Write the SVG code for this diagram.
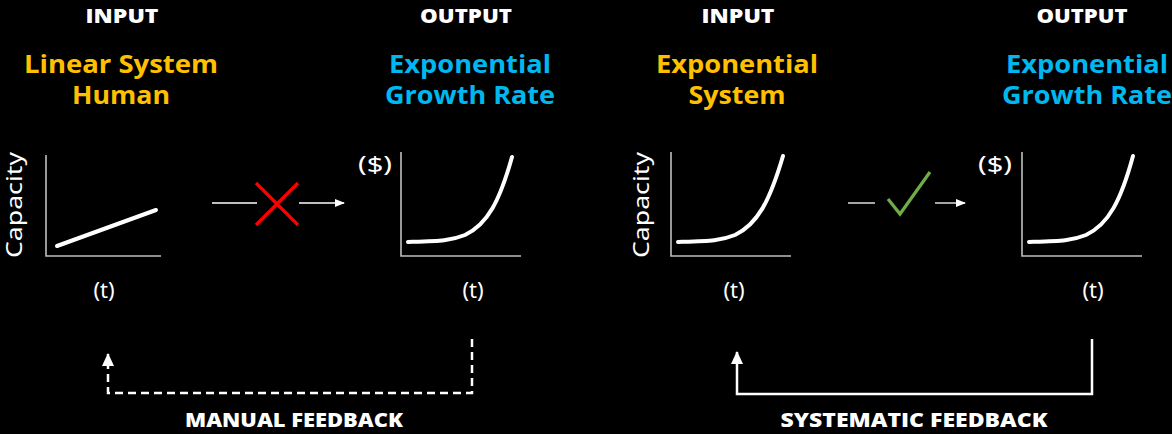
<svg xmlns="http://www.w3.org/2000/svg" width="1172" height="434" viewBox="0 0 1172 434">
<style>
.hd{font-family:"Open Sans",Lato,sans-serif;font-weight:800;font-size:19px;fill:#fff;text-anchor:middle}
.ti{font-family:"Open Sans",Lato,sans-serif;font-weight:700;font-size:25px;text-anchor:middle}
.yl{fill:#FFC000}.bl{fill:#00B8F0}
.lb{font-family:"Noto Sans","Liberation Sans",sans-serif;font-size:22px;fill:#fff;text-anchor:middle}
.ax{stroke:#bfbfbf;stroke-width:1.6;fill:none}
.cv{stroke:#fff;stroke-width:4;fill:none;stroke-linecap:round}
.ar{stroke:#fff;stroke-width:1.3;fill:none}
.fb{stroke:#fff;stroke-width:2.5;fill:none}
</style>
<defs>
<marker id="ah" markerWidth="10" markerHeight="10" refX="9" refY="5" orient="auto" markerUnits="userSpaceOnUse">
<path d="M0,1 L10,5 L0,9 Z" fill="#fff"/>
</marker>
<marker id="fh" markerWidth="12" markerHeight="14" refX="6" refY="1" orient="0" markerUnits="userSpaceOnUse">
<path d="M0,13 L6,0 L12,13 Z" fill="#fff"/>
</marker>
</defs>
<rect width="1172" height="434" fill="#000"/>

<g id="input-linear">
<text class="hd" x="122" y="23" textLength="73" lengthAdjust="spacingAndGlyphs">INPUT</text>
<text class="ti yl" x="121" y="73" textLength="194" lengthAdjust="spacingAndGlyphs">Linear System</text>
<text class="ti yl" x="121" y="104" textLength="98" lengthAdjust="spacingAndGlyphs">Human</text>
<text class="lb" transform="translate(22,205) rotate(-90)" textLength="106" lengthAdjust="spacingAndGlyphs">Capacity</text>
<path class="ax" d="M46,155 V256 H161"/>
<path class="cv" d="M57,246 L156,210"/>
<text class="lb" x="104" y="298">(t)</text>
</g>

<g id="output-left">
<text class="hd" x="466" y="23" textLength="92" lengthAdjust="spacingAndGlyphs">OUTPUT</text>
<text class="ti bl" x="470" y="73" textLength="162" lengthAdjust="spacingAndGlyphs">Exponential</text>
<text class="ti bl" x="470" y="104" textLength="170" lengthAdjust="spacingAndGlyphs">Growth Rate</text>
<text class="lb" x="375" y="172" textLength="34" lengthAdjust="spacingAndGlyphs">($)</text>
<path class="ax" d="M401,152 V256 H521"/>
<path class="cv" d="M408,242 C440,241 450,241 465,235 C488,224 500,200 512,157"/>
<text class="lb" x="473" y="298">(t)</text>
</g>

<g id="input-exp">
<text class="hd" x="738" y="23" textLength="73" lengthAdjust="spacingAndGlyphs">INPUT</text>
<text class="ti yl" x="737" y="73" textLength="162" lengthAdjust="spacingAndGlyphs">Exponential</text>
<text class="ti yl" x="737" y="104" textLength="97" lengthAdjust="spacingAndGlyphs">System</text>
<text class="lb" transform="translate(649,205) rotate(-90)" textLength="106" lengthAdjust="spacingAndGlyphs">Capacity</text>
<path class="ax" d="M671,152 V256 H791"/>
<path class="cv" d="M678,242 C710,241 720,241 735,235 C758,224 770,200 783,156"/>
<text class="lb" x="734" y="298">(t)</text>
</g>

<g id="output-right">
<text class="hd" x="1082" y="23" textLength="91" lengthAdjust="spacingAndGlyphs">OUTPUT</text>
<text class="ti bl" x="1087" y="73" textLength="162" lengthAdjust="spacingAndGlyphs">Exponential</text>
<text class="ti bl" x="1087" y="104" textLength="170" lengthAdjust="spacingAndGlyphs">Growth Rate</text>
<text class="lb" x="995" y="172" textLength="34" lengthAdjust="spacingAndGlyphs">($)</text>
<path class="ax" d="M1022,152 V256 H1142"/>
<path class="cv" d="M1029,242 C1061,241 1071,241 1086,235 C1109,224 1121,200 1133,156"/>
<text class="lb" x="1093" y="298">(t)</text>
</g>

<g id="connectors">
<line class="ar" x1="212" y1="203" x2="257" y2="203"/>
<line class="ar" x1="299" y1="203" x2="344" y2="203" marker-end="url(#ah)"/>
<path d="M256,183 L298,225 M298,183 L256,225" stroke="#FF0000" stroke-width="3.2" fill="none"/>
<line class="ar" x1="848" y1="203" x2="875" y2="203"/>
<line class="ar" x1="935" y1="203" x2="965" y2="203" marker-end="url(#ah)"/>
<path d="M888,199 L900,214 L930,172" stroke="#70AD47" stroke-width="3.2" fill="none"/>
<path class="fb" d="M472,339 V393 H108 V354" stroke-dasharray="8,5" marker-end="url(#fh)"/>
<path class="fb" d="M1092,339 V394 H737 V352" marker-end="url(#fh)"/>
</g>

<text class="hd" x="294" y="427" textLength="218" lengthAdjust="spacingAndGlyphs">MANUAL FEEDBACK</text>
<text class="hd" x="914" y="427" textLength="267" lengthAdjust="spacingAndGlyphs">SYSTEMATIC FEEDBACK</text>
</svg>
